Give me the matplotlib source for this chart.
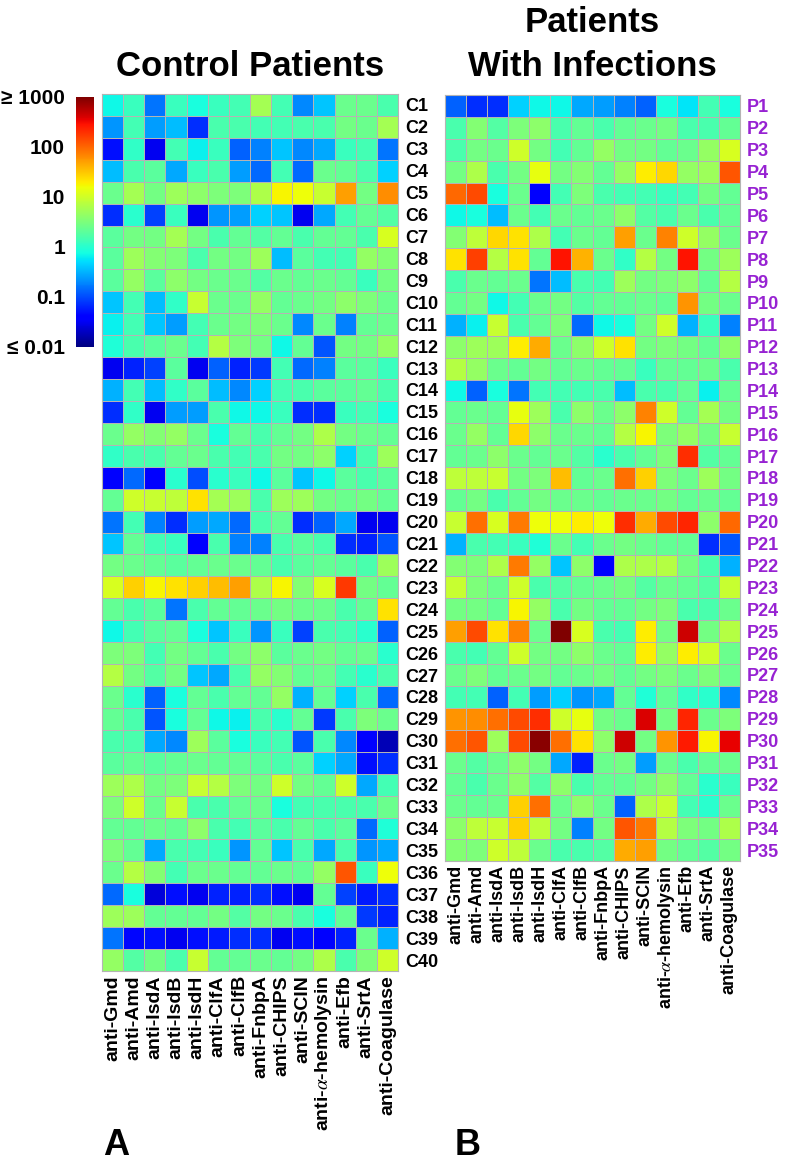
import numpy as np
import matplotlib
matplotlib.use('Agg')
import matplotlib.pyplot as plt
from matplotlib.colors import Normalize
from matplotlib.cm import ScalarMappable

# ---------------- data (log10 of relative antibody level) ----------------
col_labels = ['anti-Gmd', 'anti-Amd', 'anti-IsdA', 'anti-IsdB', 'anti-IsdH',
              'anti-ClfA', 'anti-ClfB', 'anti-FnbpA', 'anti-CHIPS', 'anti-SCIN',
              r'anti-$\alpha$-hemolysin', 'anti-Efb', 'anti-SrtA', 'anti-Coagulase']

control_labels = ['C%d' % i for i in range(1, 41)]
infection_labels = ['P%d' % i for i in range(1, 36)]

cbar_ticks = [-2, -1, 0, 1, 2, 3]
cbar_ticklabels = ['\u2264 0.01', '0.1', '1', '10', '100', '\u2265 1000']

control_log10 = [
    [-0.15, 0.1, -0.8, 0.1, -0.1, 0.1, 0.15, 0.75, 0.15, -0.7, -0.4, 0.4, 0.4, 0.2],
    [-0.65, 0.15, -0.6, -0.45, -1.15, 0.2, 0.2, 0.15, 0.15, 0.2, 0.2, 0.45, 0.4, 0.75],
    [-1.3, 0.05, -1.5, 0.15, -0.2, 0.1, -0.9, -0.75, -0.4, -0.7, -0.55, 0.1, 0.15, -0.8],
    [-0.45, 0.2, 0.3, -0.55, 0.1, 0.2, -0.6, -0.85, 0.15, -0.85, 0.4, 0.35, 0.2, -0.35],
    [0.4, 0.75, 0.45, 0.7, 0.6, 0.5, 0.5, 0.8, 1.25, 1.2, 0.95, 1.7, 0.45, 1.8],
    [-1.15, 0.0, -1.05, 0.1, -1.5, -0.65, -0.6, -0.35, -0.4, -1.5, -0.55, 0.15, 0.35, 0.25],
    [0.3, 0.45, 0.45, 0.75, 0.45, 0.2, 0.35, 0.25, 0.35, 0.2, 0.35, 0.35, 0.2, 1.05],
    [0.3, 0.7, 0.55, 0.5, 0.2, 0.45, 0.45, 0.7, -0.45, 0.3, 0.15, 0.15, 0.65, 0.55],
    [0.3, 0.65, 0.3, 0.6, 0.45, 0.4, 0.4, 0.25, 0.4, 0.35, 0.4, 0.35, 0.1, 0.45],
    [-0.4, 0.15, -0.45, 0.05, 0.95, 0.4, 0.4, 0.65, 0.35, 0.4, 0.45, 0.6, 0.5, 0.4],
    [-0.2, 0.15, -0.4, -0.6, 0.15, 0.4, 0.45, 0.5, 0.4, -0.7, 0.4, -0.75, 0.35, 0.4],
    [-0.05, 0.2, 0.3, 0.4, 0.15, 0.85, 0.5, 0.45, -0.15, 0.35, -0.95, 0.45, 0.45, 0.65],
    [-1.5, -1.2, -1.05, 0.3, -1.5, -0.9, -1.2, -1.1, 0.15, -0.85, -0.75, 0.3, 0.3, 0.1],
    [-0.5, 0.15, -0.45, 0.05, 0.3, -0.45, -0.7, -0.35, 0.15, 0.2, 0.3, 0.3, 0.35, 0.2],
    [-1.15, 0.05, -1.5, -0.6, -0.6, 0.2, -0.15, -0.15, 0.1, -1.15, -1.15, 0.1, 0.15, -0.1],
    [0.4, 0.65, 0.55, 0.65, 0.4, -0.1, 0.35, 0.2, 0.35, 0.45, 0.8, 0.45, 0.4, 0.35],
    [0.05, 0.2, 0.2, 0.35, 0.4, 0.2, 0.15, 0.2, 0.45, 0.45, 0.6, -0.35, 0.2, 0.7],
    [-1.45, -0.85, -1.45, 0.0, -1.0, 0.0, 0.1, -0.15, 0.3, -0.4, -0.15, 0.3, 0.2, 0.3],
    [0.35, 1.0, 0.95, 0.9, 1.35, 0.75, 0.7, 0.2, 0.7, 0.7, 0.45, 0.4, 0.45, 0.35],
    [-0.8, 0.15, -0.75, -1.15, -0.6, -0.55, -0.85, 0.2, 0.35, -1.15, -0.9, -0.55, -1.5, -1.5],
    [-0.4, 0.35, 0.15, 0.1, -1.45, 0.2, -0.75, -0.75, 0.2, 0.3, 0.2, -1.15, -1.2, -0.95],
    [0.45, 0.4, 0.35, 0.3, 0.35, 0.4, 0.4, 0.35, 0.2, 0.3, 0.35, 0.3, 0.2, 0.7],
    [1.05, 1.45, 1.25, 1.35, 1.45, 1.55, 1.7, 0.8, 1.25, 0.55, 1.05, 2.25, 0.45, 0.35],
    [0.35, 0.2, 0.3, -0.8, 0.2, 0.35, 0.35, 0.4, 0.45, 0.4, 0.4, 0.2, 0.35, 1.35],
    [-0.15, 0.15, 0.3, 0.35, -0.1, -0.4, 0.1, -0.65, 0.1, -1.05, 0.2, 0.15, 0.0, -0.9],
    [0.5, 0.5, 0.15, 0.45, 0.35, 0.2, 0.45, 0.6, 0.3, 0.4, 0.45, 0.35, 0.4, 0.0],
    [0.85, 0.45, 0.25, 0.45, -0.4, -0.55, 0.2, 0.65, 0.55, 0.35, 0.4, 0.15, 0.0, 0.2],
    [0.4, 0.0, -0.9, -0.1, 0.35, 0.2, 0.35, 0.35, 0.65, -0.5, 0.35, -0.35, 0.2, -0.85],
    [0.35, 0.2, -0.95, -0.1, 0.35, -0.15, -0.2, 0.2, 0.0, 0.35, -1.1, 0.2, 0.5, 0.4],
    [0.2, 0.2, -0.55, -0.7, 0.7, 0.3, -0.1, 0.1, 0.15, -0.95, 0.2, -0.7, -1.45, -1.75],
    [0.3, 0.35, 0.3, 0.35, 0.4, 0.35, 0.35, 0.3, 0.2, 0.3, -0.35, -0.55, -1.3, -1.15],
    [0.7, 0.8, 0.45, 0.5, 0.95, 0.85, 0.5, 0.45, 1.0, 0.45, 0.35, 1.0, -0.55, 0.15],
    [0.5, 1.0, 0.4, 0.95, 0.2, 0.2, 0.35, 0.4, -0.1, 0.15, 0.2, 0.2, 0.2, 0.4],
    [0.35, 0.35, 0.4, 0.35, 0.6, 0.2, 0.15, 0.3, 0.2, 0.35, 0.2, 0.3, -0.85, -0.05],
    [0.5, 0.35, -0.55, 0.2, 0.15, 0.1, -0.65, 0.35, -0.4, 0.2, -0.55, 0.2, -0.65, -0.55],
    [0.4, 0.85, 0.55, 0.15, 0.4, 0.4, 0.35, 0.35, 0.4, 0.35, 0.65, 2.1, 0.1, 1.2],
    [-0.85, -0.1, -1.6, -1.3, -1.5, -1.2, -1.2, -1.15, -1.3, -1.5, 0.35, -1.05, -1.25, -1.15],
    [0.7, 0.7, 0.35, 0.35, 0.35, 0.45, 0.25, 0.45, 0.4, 0.2, -0.1, 0.35, -1.1, -1.2],
    [-0.8, -1.35, -1.3, -1.5, -1.3, -1.25, -1.15, -1.15, -1.5, -1.3, -1.4, -1.2, 0.4, -0.5],
    [0.65, 0.25, 0.45, 0.2, 0.95, 0.35, 0.35, 0.4, 0.35, 0.45, 0.8, 0.2, 0.5, 1.0],
]

infection_log10 = [
    [-0.9, -1.15, -1.15, -0.35, -0.15, -0.15, -0.55, -0.6, -0.75, -0.9, -0.1, -0.25, 0.15, -0.1],
    [0.2, 0.55, 0.25, 0.5, 0.6, 0.2, 0.35, 0.2, 0.35, 0.4, 0.45, 0.2, 0.2, 0.35],
    [0.2, 0.45, 0.4, 1.0, 0.45, 0.15, 0.35, 0.65, 0.45, 0.45, 0.35, 0.4, 0.65, 1.05],
    [0.45, 0.8, 0.2, 0.45, 1.15, 0.45, 0.55, 0.35, 0.65, 1.3, 1.4, 0.65, 0.7, 2.1],
    [2.0, 2.15, -0.1, 0.4, -1.4, 0.15, 0.5, 0.2, 0.15, 0.15, 0.1, 0.15, 0.45, 0.35],
    [-0.15, -0.1, -0.45, 0.4, 0.15, 0.4, 0.35, 0.4, 0.6, 0.25, 0.2, 0.4, 0.2, 0.35],
    [0.55, 0.9, 1.4, 1.35, 0.8, 0.15, 0.4, 0.35, 1.7, 0.4, 1.85, 1.0, 0.65, 0.4],
    [1.35, 2.2, 0.85, 1.35, 0.35, 2.45, 1.6, 0.4, 0.05, 0.85, 0.45, 2.45, 0.45, 0.7],
    [0.2, 0.4, 0.35, 0.4, -0.8, -0.45, 0.2, 0.15, 0.7, 0.45, 0.5, 0.6, 0.35, 0.85],
    [0.35, 0.45, -0.15, 0.15, 0.4, 0.45, 0.25, 0.35, 0.35, 0.4, 0.35, 1.75, 0.45, 0.4],
    [-0.5, -0.2, 0.95, 0.2, 0.35, 0.5, -0.85, -0.15, -0.1, 0.45, 1.0, -0.5, 0.1, -0.75],
    [0.6, 0.7, 0.7, 1.3, 1.65, 0.4, 0.6, 1.0, 1.35, 0.45, 0.5, 0.45, 0.35, 0.6],
    [0.85, 0.65, 0.4, 0.35, 0.45, 0.35, 0.4, 0.35, 0.35, 0.1, 0.35, 0.35, 0.4, 0.2],
    [-0.15, -0.9, -0.1, -0.8, 0.15, 0.15, 0.15, 0.2, -0.45, 0.2, 0.2, 0.35, -0.2, 0.35],
    [0.35, 0.4, 0.35, 1.15, 0.7, 0.2, 0.6, 0.4, 0.6, 1.85, 1.0, 0.35, 0.75, 0.45],
    [0.4, 0.65, 0.35, 1.4, 0.6, 0.4, 0.4, 0.35, 0.85, 1.25, 0.5, 0.65, 0.45, 0.95],
    [0.35, 0.4, 0.6, 0.4, 0.35, 0.4, 0.25, 0.0, 0.2, 0.35, 0.5, 2.3, 0.25, 0.35],
    [0.9, 0.9, 0.95, 0.45, 0.5, 1.55, 0.35, 0.4, 1.95, 1.45, 0.5, 0.4, 0.7, 0.45],
    [0.35, 0.45, 0.2, 0.35, 0.45, 0.4, 0.4, 0.35, 0.4, 0.4, 0.45, 0.35, 0.4, 0.35],
    [0.95, 1.95, 1.05, 1.9, 1.2, 1.2, 1.3, 1.2, 2.3, 1.65, 2.15, 2.35, 0.6, 2.0],
    [-0.5, 0.2, 0.15, 0.1, -0.05, 0.4, 0.15, 0.4, 0.45, 0.4, 0.35, 0.35, -1.15, -0.95],
    [0.55, 0.5, 0.8, 1.9, 0.65, -0.4, 0.6, -1.45, 0.8, 0.8, 0.85, 0.45, 0.2, -0.5],
    [0.95, 0.5, 0.4, 1.0, 0.2, 0.25, 0.35, 0.4, 0.45, 0.25, 0.4, 0.35, 0.25, 0.95],
    [0.45, 0.45, 0.35, 1.25, 0.65, 0.2, 0.45, 0.35, 0.35, 0.45, 0.5, 0.2, 0.2, 0.4],
    [1.7, 2.15, 1.35, 1.85, 0.4, 3.0, 1.05, 0.2, 0.15, 1.3, 0.45, 2.65, 0.45, 0.85],
    [0.2, 0.15, 0.35, 1.0, 0.45, 0.45, 0.6, 0.4, 0.35, 1.3, 0.65, 1.3, 1.0, 0.4],
    [0.4, 0.5, 0.35, 0.4, 0.45, 0.35, 0.4, 0.45, 0.35, 0.45, 0.5, 0.4, 0.5, 0.4],
    [0.15, 0.15, -0.9, 0.15, -0.6, -0.35, -0.65, -0.55, 0.35, -0.05, 0.35, 0.05, 0.0, -0.7],
    [1.75, 1.8, 1.95, 2.15, 2.3, 1.0, 1.15, 0.45, 0.4, 2.6, 0.45, 2.35, 0.4, 0.5],
    [1.95, 2.1, 0.7, 2.15, 2.95, 1.95, 1.35, 0.6, 2.65, 0.45, 1.75, 2.4, 1.25, 2.55],
    [0.4, 0.25, 0.4, 0.6, 0.45, -0.55, -1.2, 0.4, 0.45, -0.6, 0.4, 0.2, 0.35, 0.4],
    [0.35, 0.2, 0.4, 0.6, 0.25, 0.6, 0.2, 0.35, 0.35, 0.45, 0.6, 0.35, 0.0, 0.1],
    [0.4, 0.35, 0.4, 1.45, 1.95, 0.4, 0.6, 0.4, -0.9, 0.8, 0.95, 0.15, 0.0, 0.4],
    [0.6, 0.9, 0.95, 1.45, 0.9, 0.45, -0.75, 0.45, 2.1, 1.9, 0.85, 0.5, 0.45, 0.8],
    [0.55, 0.5, 1.0, 0.9, 0.4, 0.2, 0.2, 0.25, 1.65, 1.7, 0.45, 0.35, 0.25, 0.45],
]

# ---------------- figure ----------------
W, H = 786, 1164
fig = plt.figure(figsize=(W / 100, H / 100), dpi=100)
fig.patch.set_facecolor('white')

BOLD = ['Liberation Sans', 'DejaVu Sans']
plt.rcParams['font.family'] = BOLD
plt.rcParams['mathtext.fontset'] = 'stix'


def ax_px(x0, y0, x1, y1):
    return fig.add_axes([x0 / W, 1 - y1 / H, (x1 - x0) / W, (y1 - y0) / H])


norm = Normalize(vmin=-2, vmax=3)
cmap = plt.get_cmap('jet')
grid = '#b4b4b4'


def draw_heat(ax, data, rlabels, rcolor, xfs):
    arr = np.array(data)
    nr, nc = arr.shape
    ax.pcolormesh(arr, cmap=cmap, norm=norm, edgecolors=grid, linewidth=0.6)
    ax.set_xlim(0, nc)
    ax.set_ylim(nr, 0)
    ax.set_xticks(np.arange(nc) + 0.5)
    ax.set_xticklabels(col_labels, rotation=90, fontsize=xfs, fontweight='bold',
                       va='top', ha='center')
    ax.yaxis.tick_right()
    ax.set_yticks(np.arange(nr) + 0.5)
    ax.set_yticklabels(rlabels, fontsize=13, fontweight='bold', color=rcolor)
    ax.tick_params(axis='both', length=0)
    ax.tick_params(axis='x', pad=3)
    ax.tick_params(axis='y', pad=5)
    for s in ax.spines.values():
        s.set_color(grid)
        s.set_linewidth(0.8)


axL = ax_px(102, 94, 398, 971)
draw_heat(axL, control_log10, control_labels, 'black', 14)

axR = ax_px(445, 95, 740, 861)
draw_heat(axR, infection_log10, infection_labels, '#9722D2', 13)

# colorbar
cax = ax_px(76, 97, 94, 347)
cb = fig.colorbar(ScalarMappable(norm=norm, cmap=cmap), cax=cax)
cb.outline.set_visible(False)
cax.yaxis.tick_left()
cb.set_ticks(cbar_ticks)
cb.set_ticklabels(cbar_ticklabels)
cax.tick_params(length=0, pad=8)
for t in cax.get_yticklabels():
    t.set_fontsize(15)
    t.set_fontweight('bold')

# titles
fig.text(250 / W, 1 - 66 / H, 'Control Patients', ha='center', va='center',
         fontsize=25, fontweight='bold')
fig.text(592 / W, 1 - 22 / H, 'Patients', ha='center', va='center',
         fontsize=25, fontweight='bold')
fig.text(592 / W, 1 - 66 / H, 'With Infections', ha='center', va='center',
         fontsize=25, fontweight='bold')

# panel letters
fig.text(103 / W, 1 - 1155 / H, 'A', ha='left', va='baseline',
         fontsize=26, fontweight='bold')
fig.text(455 / W, 1 - 1155 / H, 'B', ha='left', va='baseline',
         fontsize=26, fontweight='bold')

fig.savefig('out.png', dpi=100, facecolor='white')
